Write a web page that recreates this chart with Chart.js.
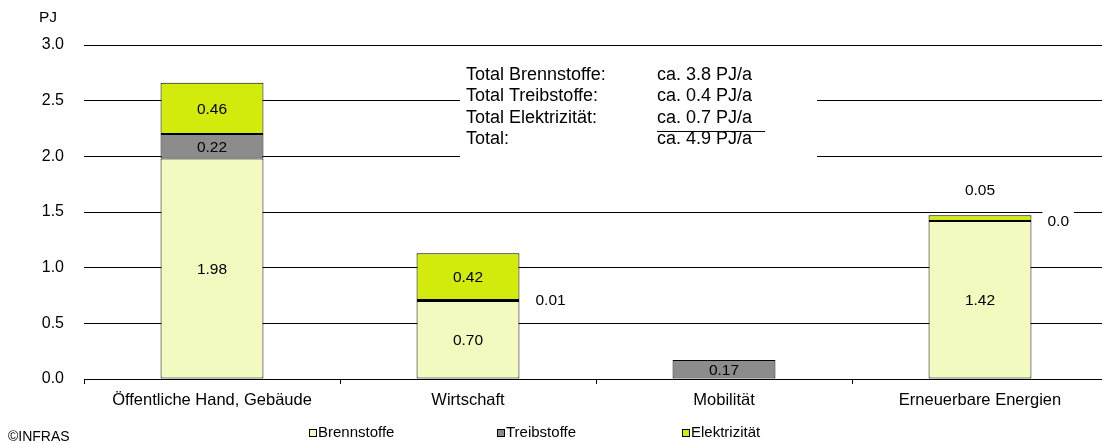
<!DOCTYPE html>
<html>
<head>
<meta charset="utf-8">
<script src="https://cdn.jsdelivr.net/npm/chart.js@4.4.0/dist/chart.umd.min.js"></script>
<style>
  html, body { margin: 0; padding: 0; background: #fff; overflow: hidden; }
  #wrap { width: 1102px; height: 443px; position: relative; overflow: hidden; }
</style>
</head>
<body>
<div id="wrap"><canvas id="energyChart" width="1110" height="443"></canvas></div>
<script>
const categories = ["Öffentliche Hand, Gebäude", "Wirtschaft", "Mobilität", "Erneuerbare Energien"];
const brennstoffe = [1.98, 0.70, null, 1.42];
const treibstoffe = [0.22, 0.01, 0.17, 0.0];
const elektrizitaet = [0.46, 0.42, null, 0.05];
const yTicks = [0, 0.5, 1.0, 1.5, 2.0, 2.5, 3.0];
const totalsLabels = ["Total Brennstoffe:", "Total Treibstoffe:", "Total Elektrizität:", "Total:"];
const totalsValues = ["ca. 3.8 PJ/a", "ca. 0.4 PJ/a", "ca. 0.7 PJ/a", "ca. 4.9 PJ/a"];

const FONT = "'Liberation Sans', Arial, sans-serif";

// value labels on the segments, small ones go beside or above the bar
const valueLabels = {
  id: "valueLabels",
  afterDatasetsDraw(chart) {
    const ctx = chart.ctx;
    ctx.save();
    ctx.font = "15.5px " + FONT;
    ctx.fillStyle = "#000";
    ctx.textBaseline = "middle";
    const lastDs = chart.data.datasets.length - 1;
    chart.data.datasets.forEach((ds, di) => {
      const meta = chart.getDatasetMeta(di);
      meta.data.forEach((bar, i) => {
        const v = ds.data[i];
        if (v === null || v === undefined) return;
        const text = v === 0 ? "0.0" : v.toFixed(2);
        const p = bar.getProps(["x", "y", "base", "width"], true);
        const h = Math.abs(p.base - p.y);
        if (h >= 8) {
          ctx.textAlign = "center";
          ctx.fillText(text, p.x, (p.y + p.base) / 2 + 1);
        } else if (di === lastDs) {
          ctx.textAlign = "center";
          ctx.fillText(text, p.x, p.y - 25);
        } else {
          const tx = p.x + p.width / 2 + 16;
          const tw = ctx.measureText(text).width;
          ctx.fillStyle = "#fff";
          ctx.fillRect(tx - 5, p.y - 9, tw + 10, 16);
          ctx.fillStyle = "#000";
          ctx.textAlign = "left";
          ctx.fillText(text, tx, p.y + 1);
        }
      });
    });
    ctx.restore();
  }
};

// totals box, unit label, source and legend
const extras = {
  id: "extras",
  afterDraw(chart) {
    const ctx = chart.ctx;
    ctx.save();
    ctx.fillStyle = "#fff";
    ctx.fillRect(460, 62, 357, 98);
    ctx.fillStyle = "#000";
    ctx.font = "18px " + FONT;
    ctx.textBaseline = "middle";
    ctx.textAlign = "left";
    totalsLabels.forEach((t, i) => {
      const y = 75 + i * 21.5;
      ctx.fillText(t, 466, y);
      ctx.fillText(totalsValues[i], 657, y);
    });
    ctx.strokeStyle = "#000";
    ctx.lineWidth = 1;
    ctx.beginPath();
    ctx.moveTo(657, 131.5);
    ctx.lineTo(765, 131.5);
    ctx.stroke();

    ctx.font = "15.5px " + FONT;
    ctx.fillText("PJ", 39, 18);
    ctx.font = "14px " + FONT;
    ctx.fillText("©INFRAS", 8, 437);

    // legend
    const legendX = [309, 497, 682];
    ctx.font = "15px " + FONT;
    chart.data.datasets.forEach((ds, i) => {
      const x = legendX[i];
      ctx.fillStyle = ds.backgroundColor;
      ctx.fillRect(x + 0.5, 429.5, 7, 7);
      ctx.strokeStyle = "#000";
      ctx.strokeRect(x + 0.5, 429.5, 7, 7);
      ctx.fillStyle = "#000";
      ctx.fillText(ds.label, x + 9, 433);
    });
    ctx.restore();
  }
};

const datasetStyle = {
  borderColor: "#000",
  borderWidth: 1,
  borderSkipped: false,
  barPercentage: 0.402,
  categoryPercentage: 1.0,
};

const ctx = document.getElementById("energyChart").getContext("2d");
const chart = new Chart(ctx, {
  type: "bar",
  data: {
    labels: categories,
    datasets: [
      { label: "Brennstoffe", data: brennstoffe, backgroundColor: "#F2FAC0", ...datasetStyle },
      { label: "Treibstoffe", data: treibstoffe, backgroundColor: "#8C8C8C", ...datasetStyle },
      { label: "Elektrizität", data: elektrizitaet, backgroundColor: "#D2EA0C", ...datasetStyle },
    ],
  },
  options: {
    responsive: false,
    animation: false,
    layout: { padding: { top: 45, right: 2, left: 0, bottom: 0 } },
    plugins: { legend: { display: false }, tooltip: { enabled: false } },
    scales: {
      x: {
        stacked: true,
        grid: { drawOnChartArea: false, color: "#000", tickLength: 5, offset: true },
        border: { color: "#000", width: 1 },
        ticks: { color: "#000", font: { family: FONT, size: 16.5 }, padding: 7, maxRotation: 0 },
        afterFit: (s) => { s.height = 64; },
      },
      y: {
        stacked: true,
        min: 0,
        max: 3,
        afterBuildTicks: (s) => { s.ticks = yTicks.map((v) => ({ value: v })); },
        grid: { color: "#000", drawTicks: false },
        border: { display: false },
        ticks: {
          color: "#000",
          font: { family: FONT, size: 16 },
          padding: 20,
          callback: (v) => Number(v).toFixed(1),
        },
        afterFit: (s) => { s.width = 84; },
      },
    },
  },
  plugins: [valueLabels, extras],
});
</script>
</body>
</html>
